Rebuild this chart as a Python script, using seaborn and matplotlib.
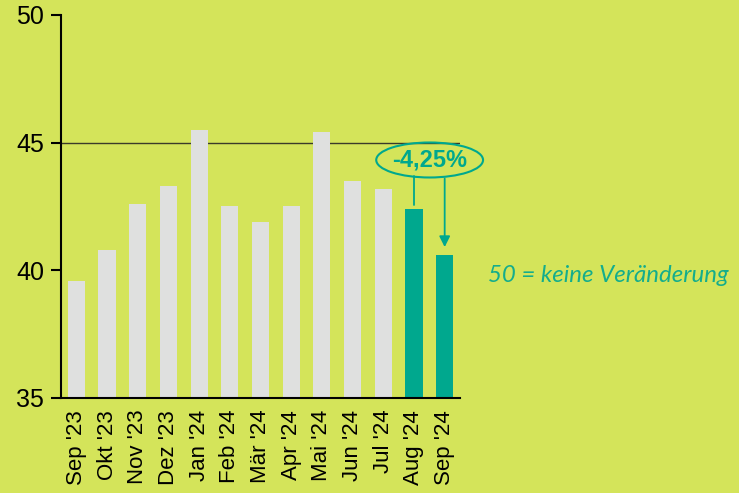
import numpy as np
import seaborn as sns
import matplotlib.pyplot as plt
import pandas as pd
from matplotlib.patches import Ellipse

months = ["Sep '23", "Okt '23", "Nov '23", "Dez '23", "Jan '24", "Feb '24", "Mär '24",
          "Apr '24", "Mai '24", "Jun '24", "Jul '24", "Aug '24", "Sep '24"]
values = [39.6, 40.8, 42.6, 43.3, 45.5, 42.5, 41.9, 42.5, 45.4, 43.5, 43.2, 42.4, 40.6]
highlight = [False] * 11 + [True, True]
change_label = '-4,25%'
note = '50 = keine Veränderung'

bg = '#d4e45a'
grey = '#dfe0df'
teal = '#00a88e'

df = pd.DataFrame({'month': months, 'value': values})
colors = [teal if h else grey for h in highlight]

sns.set_style('white')
plt.rcParams['font.family'] = ['Liberation Sans', 'DejaVu Sans']
plt.rcParams['text.color'] = 'black'
plt.rcParams['xtick.color'] = 'black'
plt.rcParams['ytick.color'] = 'black'

fig = plt.figure(figsize=(7.39, 4.93), dpi=100, facecolor=bg)
ax = fig.add_axes([0.0825, 0.1927, 0.54, 0.777])
ax.set_facecolor(bg)

sns.barplot(data=df, x='month', y='value', hue='month', palette=colors,
            legend=False, width=0.56, saturation=1, linewidth=0, ax=ax)

ax.set_ylim(35, 50)
ax.set_xlim(-0.5, 12.5)
ax.set_yticks([35, 40, 45, 50])
ax.set_xlabel('')
ax.set_ylabel('')
ax.axhline(45, color='#3a3a2a', lw=1, zorder=0.5)

for side in ['top', 'right']:
    ax.spines[side].set_visible(False)
for side in ['left', 'bottom']:
    ax.spines[side].set_color('black')
    ax.spines[side].set_linewidth(1.5)

ax.tick_params(axis='y', left=True, length=7, width=1.5, labelsize=18, pad=5)
ax.tick_params(axis='x', bottom=False, labelsize=16, pad=5, rotation=90)

# annotation: change between the two highlighted months
ax.add_patch(Ellipse((11.51, 44.32), 3.48, 1.37, fill=False, edgecolor=teal,
                     lw=1.5, clip_on=False, zorder=5))
ax.text(11.51, 44.32, change_label, color=teal, fontsize=17, fontweight='bold',
        ha='center', va='center', zorder=6)
ax.plot([11, 11], [43.7, values[11] + 0.15], color=teal, lw=1.3, clip_on=False)
ax.annotate('', xy=(12, values[12] + 0.2), xytext=(12, 43.7),
            arrowprops=dict(arrowstyle='-|>', color=teal, lw=1.3, mutation_scale=16),
            annotation_clip=False)

fig.text(0.661, 0.442, note, color='#14ad8c', fontsize=17.3, style='italic',
         family=['Lato', 'DejaVu Sans'], ha='left', va='center')

fig.savefig('out.png', dpi=100, facecolor=bg)
